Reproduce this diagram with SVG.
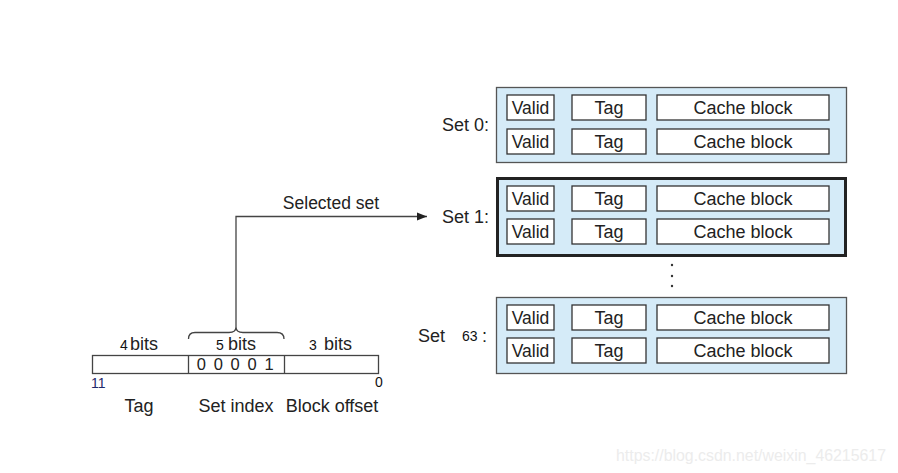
<svg xmlns="http://www.w3.org/2000/svg" width="898" height="473" viewBox="0 0 898 473">
<style>
text{font-family:"Liberation Sans",Arial,sans-serif;fill:#222}
.t{font-size:18px}
.c{text-anchor:middle}
.r{text-anchor:end}
.s{font-size:14px;fill:#111}
.set{fill:#d5ebf8;stroke:#555;stroke-width:1.3}
.cell{fill:#fff;stroke:#333;stroke-width:1.3}
.ln{fill:none;stroke:#444;stroke-width:1.3}
</style>
<defs>
<marker id="ah" viewBox="0 0 10 10" refX="10" refY="5" markerWidth="10" markerHeight="10" markerUnits="userSpaceOnUse" orient="auto">
<path d="M0,1 L10,5 L0,9 Z" fill="#222"/>
</marker>
<g id="row">
<rect class="cell" x="507" y="0" width="47" height="25"/>
<rect class="cell" x="572" y="0" width="74" height="25"/>
<rect class="cell" x="657" y="0" width="172" height="25"/>
<text class="t c" x="530.5" y="19" style="font-size:17.5px">Valid</text>
<text class="t c" x="609" y="19">Tag</text>
<text class="t c" x="743" y="19">Cache block</text>
</g>
</defs>
<rect width="898" height="473" fill="#fff"/>

<g id="set0">
<rect class="set" x="496.5" y="87.5" width="350" height="75"/>
<use href="#row" y="95"/>
<use href="#row" y="129"/>
<text class="t r" x="489" y="131">Set 0:</text>
</g>

<g id="set1">
<rect class="set" x="497.5" y="178.5" width="348" height="77" style="stroke:#222;stroke-width:3"/>
<use href="#row" y="186"/>
<use href="#row" y="219"/>
<text class="t r" x="489" y="223">Set 1:</text>
</g>

<g id="dots" fill="#333">
<circle cx="672" cy="265" r="1.2"/>
<circle cx="672" cy="276" r="1.2"/>
<circle cx="672" cy="286" r="1.2"/>
</g>

<g id="set63">
<rect class="set" x="496.5" y="297.5" width="350" height="76"/>
<use href="#row" y="305"/>
<use href="#row" y="338"/>
<text class="t" x="418" y="342">Set</text>
<text class="s" x="462" y="341">63</text>
<text class="t" x="482" y="342">:</text>
</g>

<g id="address">
<rect class="ln" x="92.5" y="355.5" width="286" height="18" style="fill:#fff"/>
<line class="ln" x1="188.5" y1="355.5" x2="188.5" y2="373.5"/>
<line class="ln" x1="284.5" y1="355.5" x2="284.5" y2="373.5"/>
<text class="s" x="120" y="350">4</text>
<text class="t" x="130" y="350">bits</text>
<text class="s" x="216" y="350">5</text>
<text class="t" x="228" y="350">bits</text>
<text class="s" x="309" y="350">3</text>
<text class="t" x="324" y="350">bits</text>
<text class="c" x="236" y="370" style="font-size:16.5px;letter-spacing:1.6px">0 0 0 0 1</text>
<text class="s" x="91" y="388" style="fill:#1f2a6b">11</text>
<text class="s" x="375" y="387">0</text>
<text class="t c" x="139" y="412">Tag</text>
<text class="t c" x="236" y="412">Set index</text>
<text class="t c" x="332" y="412">Block offset</text>
</g>

<g id="connectors">
<path class="ln" d="M188.5,339 Q188.5,332.5 195,332.5 L229,332.5 Q236,332.5 236,327 Q236,332.5 243,332.5 L277,332.5 Q284,332.5 284,339"/>
<path class="ln" d="M236,327 L236,216.5 L427,216.5" marker-end="url(#ah)"/>
<text class="t c" x="331" y="209" style="font-size:17.5px">Selected set</text>
</g>

<text x="616" y="461" textLength="270" lengthAdjust="spacingAndGlyphs" style="font-size:16px;fill:#ececec">https://blog.csdn.net/weixin_46215617</text>
</svg>
